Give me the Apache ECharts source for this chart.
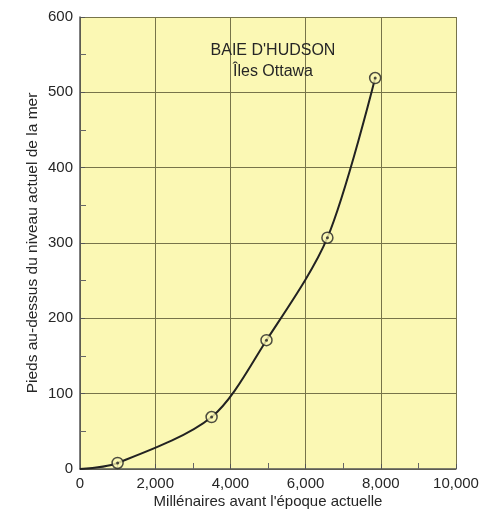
<!DOCTYPE html>
<html>
<head>
<meta charset="utf-8">
<script src="https://cdn.jsdelivr.net/npm/echarts@6/dist/echarts.min.js"></script>
<style>html,body{margin:0;padding:0;background:#fff;}#c{width:479px;height:510px;}</style>
</head>
<body>
<div id="c"></div>
<script>
var years = [0, 1000, 3500, 4960, 6580, 7850];
var heights = [0, 8, 69, 171, 307, 519];
var xTicks = [0, 2000, 4000, 6000, 8000, 10000];
var yTicks = [0, 100, 200, 300, 400, 500, 600];
var titleLines = ["BAIE D'HUDSON", "Îles Ottawa"];
var xName = "Millénaires avant l'époque actuelle";
var yName = "Pieds au-dessus du niveau actuel de la mer";

var pts = years.map(function (x, i) { return [x, heights[i]]; });
var marked = pts.slice(1);
var font = "Liberation Sans, Arial, sans-serif";
var txt = '#262626';
var chart = echarts.init(document.getElementById('c'));
chart.setOption({
  backgroundColor: '#fff',
  animation: false,
  title: {
    text: titleLines.join('\n'),
    left: 268, top: 35, textAlign: 'center',
    textStyle: { fontFamily: font, fontSize: 16, fontWeight: 'normal', color: txt, lineHeight: 21 }
  },
  grid: { left: 80, top: 17, right: 23, bottom: 41, show: true, backgroundColor: '#fbf8b4', borderWidth: 0,
          containLabel: false, outerBoundsMode: 'none' },
  xAxis: {
    type: 'value', min: 0, max: 10000, interval: 2000,
    name: xName, nameLocation: 'middle', nameGap: 25, nameMoveOverlap: false,
    nameTextStyle: { fontFamily: font, fontSize: 15, color: txt },
    axisLine: { show: true, lineStyle: { color: '#555', width: 1.5 } },
    axisTick: { show: true, inside: true, length: 5, lineStyle: { color: '#555' } },
    minorTick: { show: true, splitNumber: 2, length: 6, lineStyle: { color: '#666' } },
    splitLine: { show: true, lineStyle: { color: '#77744a', width: 1 } },
    axisLabel: {
      fontFamily: font, fontSize: 15, color: txt, margin: 7,
      formatter: function (v) { return xTicks.indexOf(v) >= 0 ? v.toLocaleString('en-US') : ''; }
    }
  },
  yAxis: {
    type: 'value', min: 0, max: 600, interval: 100,
    name: yName, nameLocation: 'middle', nameGap: 39, nameMoveOverlap: false,
    nameTextStyle: { fontFamily: font, fontSize: 15.5, color: txt },
    axisLine: { show: true, lineStyle: { color: '#555', width: 1.5 } },
    axisTick: { show: true, inside: true, length: 5, lineStyle: { color: '#555' } },
    minorTick: { show: true, splitNumber: 2, length: 6, lineStyle: { color: '#666' } },
    splitLine: { show: true, lineStyle: { color: '#77744a', width: 1 } },
    axisLabel: {
      fontFamily: font, fontSize: 15, color: txt, margin: 7,
      formatter: function (v) { return yTicks.indexOf(v) >= 0 ? String(v) : ''; }
    }
  },
  series: [
    {
      type: 'line', data: pts, smooth: 0.3, showSymbol: false,
      lineStyle: { color: '#222', width: 2 }, z: 3
    },
    {
      type: 'scatter', data: marked, symbol: 'circle', symbolSize: 11,
      itemStyle: { color: '#fbf8b4', borderColor: '#222', borderWidth: 1.5 }, z: 4
    },
    {
      type: 'scatter', data: marked, symbol: 'circle', symbolSize: 3,
      itemStyle: { color: '#222' }, z: 5
    }
  ]
});
</script>
</body>
</html>
